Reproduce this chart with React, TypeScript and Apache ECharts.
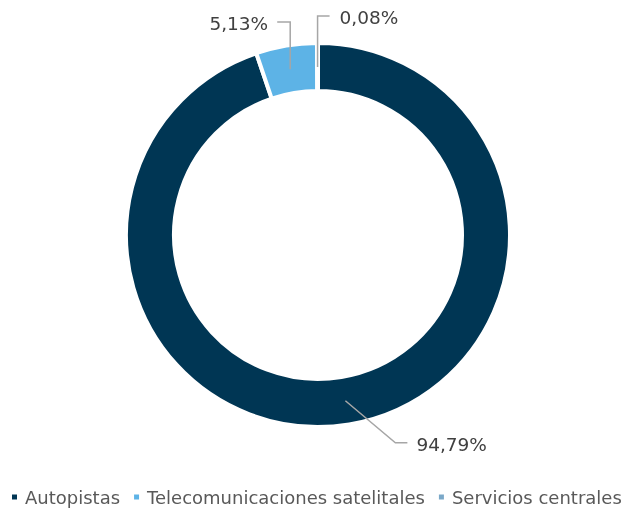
import React, { useEffect, useRef } from "react";
import * as echarts from "echarts";

const categories = ["Autopistas", "Telecomunicaciones satelitales", "Servicios centrales"];
const values = [94.79, 5.13, 0.08];
const labels = ["94,79%", "5,13%", "0,08%"];
const colors = ["#003654", "#5DB3E6", "#7AA8C8"];

const CX = 318;
const CY = 235;
const R_IN = 146;
const R_OUT = 190;
const R_MID = 168;

export default function App() {
  const ref = useRef<HTMLDivElement>(null);
  useEffect(() => {
    if (!ref.current) return;
    const chart = echarts.init(ref.current, undefined, { renderer: "svg" });
    const total = values.reduce((a, b) => a + b, 0);
    const mids: number[] = [];
    let acc = 0;
    values.forEach((v) => {
      mids.push(((acc + v / 2) / total) * Math.PI * 2);
      acc += v;
    });
    const startPt = (i: number) => [CX + R_MID * Math.sin(mids[i]), CY - R_MID * Math.cos(mids[i])];

    const guides = values.map((_, i) => {
      const s = startPt(i);
      if (i === 0) {
        const e = [s[0] + 50, s[1] + 42];
        const t = [e[0] + 12, e[1]];
        return { pts: [s, e, t], tx: t[0] + 9, ty: t[1] + 2, align: "left" };
      } else if (i === 1) {
        const e = [s[0], 22];
        const t = [e[0] - 13, 22];
        return { pts: [s, e, t], tx: t[0] - 9, ty: t[1] + 1.5, align: "right" };
      }
      const e = [s[0], 16];
      const t = [e[0] + 12, 16];
      return { pts: [s, e, t], tx: t[0] + 10, ty: t[1] + 1.5, align: "left" };
    });

    chart.setOption({
      animation: false,
      color: colors,
      legend: {
        data: categories,
        left: 10,
        top: 486,
        padding: 0,
        icon: "rect",
        itemWidth: 7,
        itemHeight: 7,
        itemGap: 12,
        textStyle: {
          fontFamily: "DejaVu Sans",
          fontSize: 18,
          color: "#595959",
          lineHeight: 22,
          padding: [0, 0, 0, 2],
        },
      },
      graphic: guides.map((g) => ({
        type: "polyline",
        z: 100,
        silent: true,
        shape: { points: g.pts },
        style: { stroke: "#A6A6A6", lineWidth: 1.5, fill: "none" },
      })),
      series: [
        {
          type: "pie",
          center: [CX, CY],
          radius: [R_IN - 2, R_OUT + 2],
          startAngle: 90,
          clockwise: true,
          itemStyle: { borderColor: "#ffffff", borderWidth: 4 },
          emphasis: { disabled: true },
          label: {
            show: true,
            position: "outside",
            formatter: (p: any) => labels[p.dataIndex],
            fontFamily: "DejaVu Sans",
            fontSize: 18.5,
            color: "#404040",
          },
          labelLine: { show: false },
          labelLayout: (p: any) => {
            const g = guides[p.dataIndex];
            return { x: g.tx, y: g.ty, align: g.align, verticalAlign: "middle" };
          },
          data: categories.map((c, i) => ({ name: c, value: values[i] })),
        },
      ],
    });
    return () => chart.dispose();
  }, []);
  return <div ref={ref} style={{ position: "fixed", left: 0, top: 0, width: 642, height: 508 }} />;
}
